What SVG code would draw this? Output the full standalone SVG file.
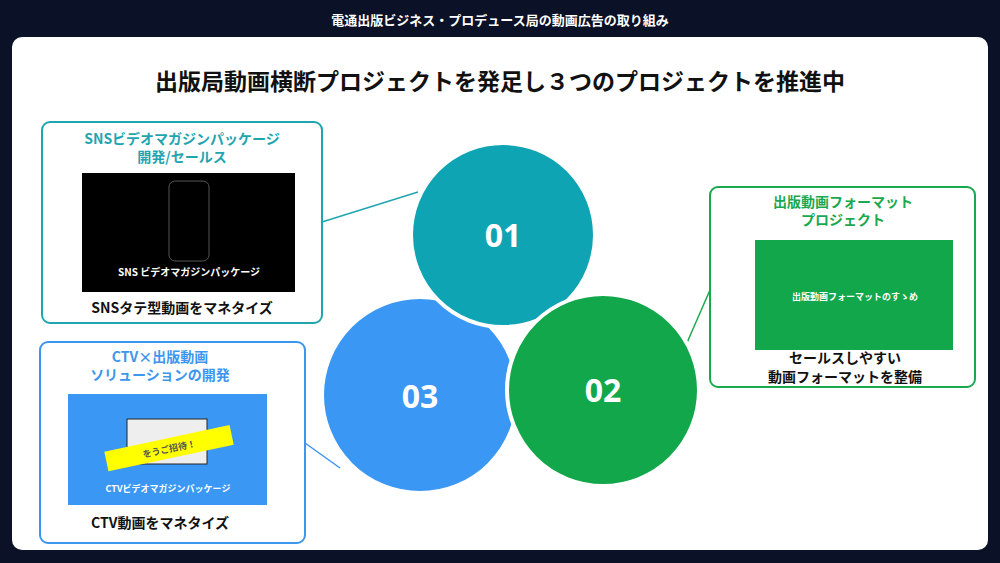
<svg xmlns="http://www.w3.org/2000/svg" width="1000" height="563" viewBox="0 0 1000 563">
<style>
text{font-family:"Noto Sans CJK JP","Noto Sans",sans-serif;font-weight:700}
.box{fill:#fff;stroke-width:2}
.num{fill:#fff;font-size:32px;text-anchor:middle;font-family:"Noto Sans","Noto Sans CJK JP",sans-serif}
.h{font-size:14px;text-anchor:middle}
.cap{font-size:14px;text-anchor:middle;fill:#111}
</style>
<rect width="1000" height="563" fill="#0b1126"/>
<text x="500" y="25" fill="#fff" font-size="13" text-anchor="middle">電通出版ビジネス・プロデュース局の動画広告の取り組み</text>
<rect x="12" y="37" width="976" height="513" rx="10" fill="#fff"/>
<text x="500" y="90" fill="#111" font-size="23" text-anchor="middle">出版局動画横断プロジェクトを発足し３つのプロジェクトを推進中</text>
<g id="connectors" stroke-width="1.5" fill="none">
<line x1="322" y1="222" x2="418" y2="192" stroke="#1fa5b0"/>
<line x1="305" y1="443" x2="340" y2="468" stroke="#3d96ee"/>
<line x1="710" y1="290" x2="686" y2="345" stroke="#1aa84e"/>
</g>
<g id="c03"><circle cx="420" cy="395" r="98" fill="#3a98f4" stroke="#fff" stroke-width="4"/><text class="num" x="420" y="408">03</text></g>
<g id="c01"><circle cx="503" cy="235" r="92" fill="#0fa4b4" stroke="#fff" stroke-width="4"/><text class="num" x="503" y="247">01</text></g>
<g id="c02"><circle cx="603" cy="390" r="96" fill="#12a74a" stroke="#fff" stroke-width="4"/><text class="num" x="603" y="402">02</text></g>
<g id="sns">
<rect class="box" x="42" y="122" width="280" height="201" rx="8" stroke="#1fa5b0"/>
<text class="h" x="182" y="144" fill="#1fa5b0">SNSビデオマガジンパッケージ</text>
<text class="h" x="182" y="162" fill="#1fa5b0">開発/セールス</text>
<rect x="82" y="173" width="213" height="119" fill="#000"/>
<rect x="169" y="181" width="40" height="80" rx="6" fill="none" stroke="#555"/>
<text x="189" y="276" fill="#fff" font-size="10" text-anchor="middle">SNS ビデオマガジンパッケージ</text>
<text class="cap" x="182" y="313">SNSタテ型動画をマネタイズ</text>
</g>
<g id="ctv">
<rect class="box" x="40" y="342" width="265" height="201" rx="8" stroke="#3d96ee"/>
<text class="h" x="160" y="362" fill="#3d96ee">CTV×出版動画</text>
<text class="h" x="160" y="380" fill="#3d96ee">ソリューションの開発</text>
<rect x="68" y="394" width="199" height="111" fill="#3a98f4"/>
<rect x="127" y="419" width="80" height="45" fill="#eee" stroke="#222"/>
<g transform="rotate(-12 170 448)"><rect x="105" y="438" width="128" height="20" fill="#ffff00"/><text x="169" y="452" font-size="9" fill="#555" text-anchor="middle">をうご招待！</text></g>
<text x="168" y="492" fill="#fff" font-size="9" text-anchor="middle">CTVビデオマガジンパッケージ</text>
<text class="cap" x="160" y="528">CTV動画をマネタイズ</text>
</g>
<g id="fmt">
<rect class="box" x="710" y="187" width="265" height="200" rx="8" stroke="#1aa84e"/>
<text class="h" x="843" y="207" fill="#1aa84e">出版動画フォーマット</text>
<text class="h" x="843" y="225" fill="#1aa84e">プロジェクト</text>
<rect x="755" y="240" width="198" height="110" fill="#12a74a"/>
<text x="855" y="300" fill="#fff" font-size="9" text-anchor="middle">出版動画フォーマットのすゝめ</text>
<text class="cap" x="845" y="363">セールスしやすい</text>
<text class="cap" x="845" y="382">動画フォーマットを整備</text>
</g>
</svg>
